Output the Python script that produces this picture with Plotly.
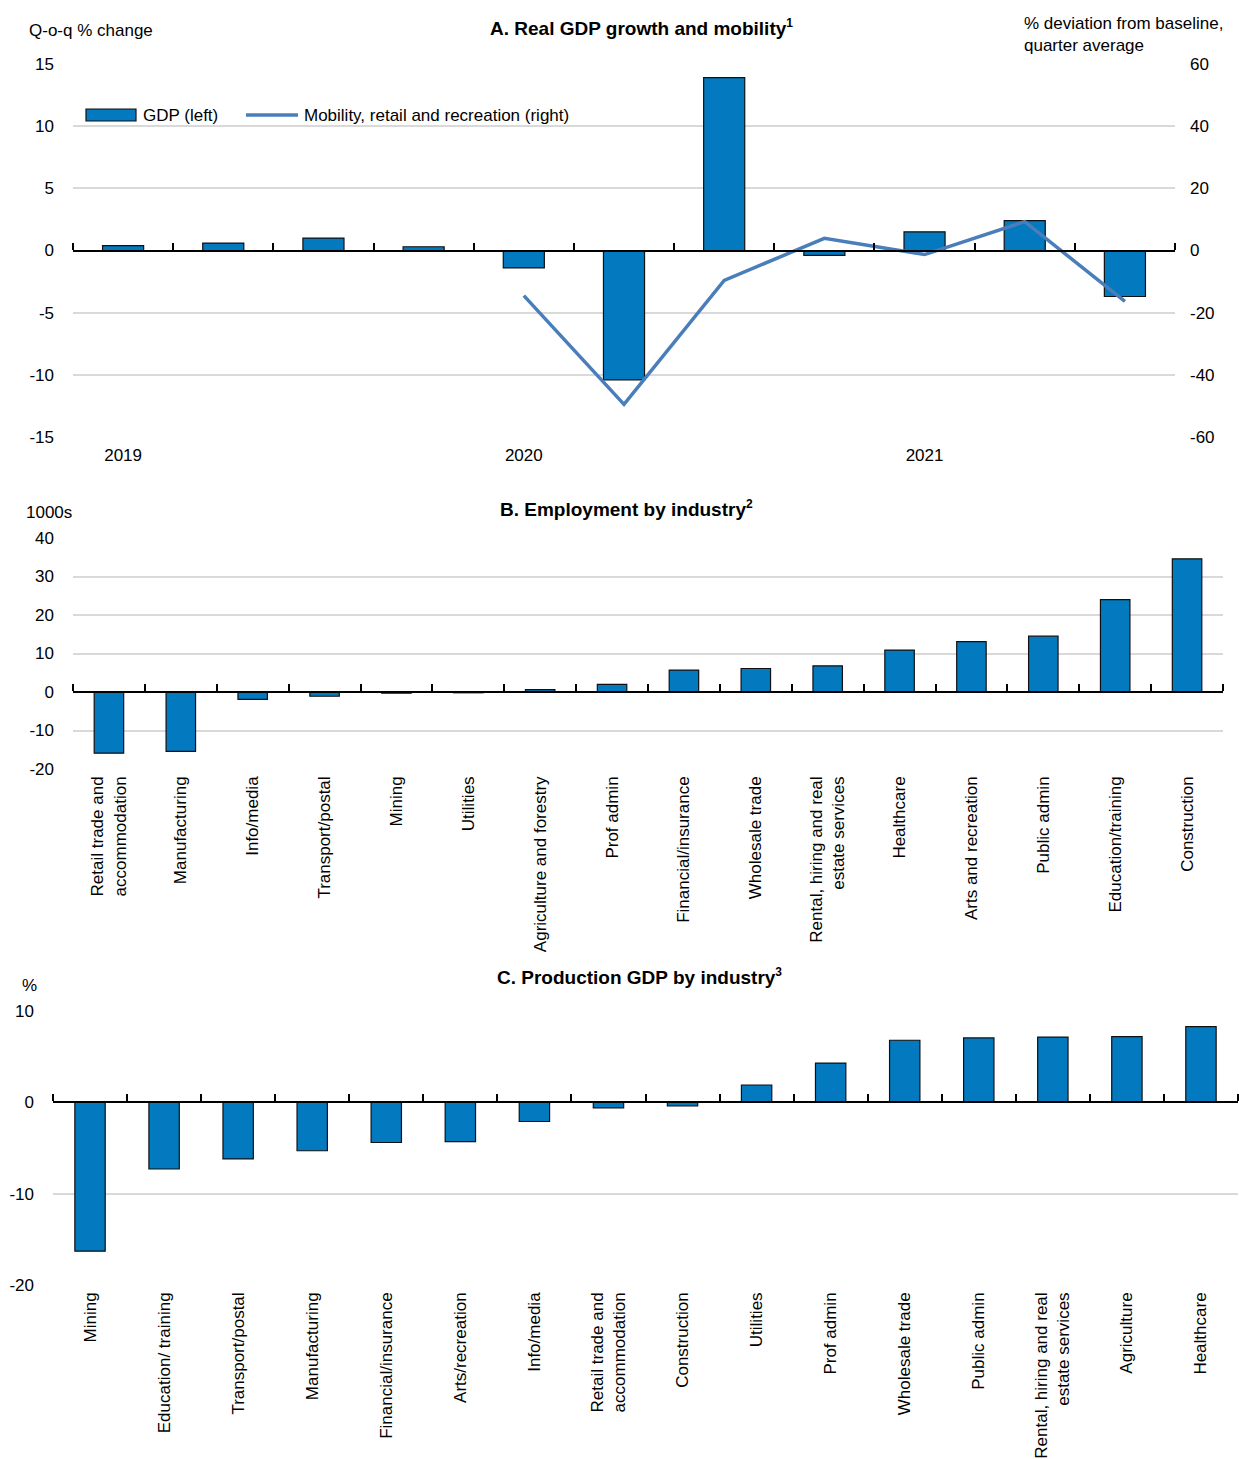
import plotly.graph_objects as go

# ---------------- data ----------------
# Panel A: quarterly real GDP growth (left, %) and mobility (right, % dev. from baseline)
quarters = ["2019 Q1", "2019 Q2", "2019 Q3", "2019 Q4",
            "2020 Q1", "2020 Q2", "2020 Q3", "2020 Q4",
            "2021 Q1", "2021 Q2", "2021 Q3"]
year_ticks = ["2019 Q1", "2020 Q1", "2021 Q1"]
year_labels = ["2019", "2020", "2021"]
gdp_growth = [0.4, 0.6, 1.0, 0.3, -1.4, -10.4, 13.9, -0.4, 1.5, 2.4, -3.7]
mobility = [None, None, None, None, -14.5, -49.5, -9.6, 3.9, -1.3, 9.3, -16.4]
gdp_ticks = [-15, -10, -5, 0, 5, 10, 15]
mobility_ticks = [-60, -40, -20, 0, 20, 40, 60]

# Panel B: employment change by industry, thousands
emp_industries = ["Retail trade and<br>accommodation", "Manufacturing", "Info/media",
                  "Transport/postal", "Mining", "Utilities", "Agriculture and forestry",
                  "Prof admin", "Financial/insurance", "Wholesale trade",
                  "Rental, hiring and real<br>estate services", "Healthcare",
                  "Arts and recreation", "Public admin", "Education/training", "Construction"]
emp_change = [-15.9, -15.4, -1.9, -1.1, -0.3, -0.2, 0.6, 2.0, 5.7, 6.1, 6.8,
              10.9, 13.1, 14.5, 24.0, 34.6]
emp_ticks = [-20, -10, 0, 10, 20, 30, 40]

# Panel C: production GDP by industry, %
prod_industries = ["Mining", "Education/ training", "Transport/postal", "Manufacturing",
                   "Financial/insurance", "Arts/recreation", "Info/media",
                   "Retail trade and<br>accommodation", "Construction", "Utilities",
                   "Prof admin", "Wholesale trade", "Public admin",
                   "Rental, hiring and real<br>estate services", "Agriculture", "Healthcare"]
prod_change = [-16.3, -7.3, -6.2, -5.3, -4.4, -4.3, -2.1, -0.6, -0.4, 1.9, 4.3,
               6.8, 7.05, 7.15, 7.2, 8.3]
prod_ticks = [-20, -10, 0, 10]

# ---------------- styling ----------------
W, H = 1239, 1459
FONT = "Liberation Sans, Arial, sans-serif"
FS = 17
TFS = 19
BAR = "#0379BF"
LINE = "#4A7EBB"
GRID = "#D9D9D9"


def px_x(x):
    return x / W


def px_y(y):
    return 1 - y / H


# plot areas in pixels (left, right, top, bottom)
A = dict(x=(73, 1175), y=(64, 437), r=(-15, 15))
B = dict(x=(73, 1223), y=(538, 769), r=(-20, 40))
C = dict(x=(53, 1238), y=(1011, 1285), r=(-20, 10))


def xdom(p):
    return [px_x(p["x"][0]), px_x(p["x"][1])]


def ydom(p):
    return [px_y(p["y"][1]), px_y(p["y"][0])]


def zero_pos(p):
    d = ydom(p)
    lo, hi = p["r"]
    return d[0] + (0 - lo) / (hi - lo) * (d[1] - d[0])


tickfont = dict(family=FONT, size=FS, color="#000000")

fig = go.Figure()

bar_style = dict(marker=dict(color=BAR, line=dict(color="#111111", width=1.2)),
                 width=0.41, showlegend=False, hoverinfo="x+y")

# Panel A
fig.add_trace(go.Bar(x=quarters, y=gdp_growth, xaxis="x", yaxis="y", name="GDP (left)", **bar_style))
fig.add_trace(go.Scatter(x=quarters, y=mobility, xaxis="x", yaxis="y2", mode="lines",
                         line=dict(color=LINE, width=3.5), connectgaps=False,
                         name="Mobility, retail and recreation (right)", showlegend=False))
# Panel B
fig.add_trace(go.Bar(x=emp_industries, y=emp_change, xaxis="x3", yaxis="y3", **bar_style))
# Panel C
fig.add_trace(go.Bar(x=prod_industries, y=prod_change, xaxis="x5", yaxis="y4", **bar_style))

# invisible helpers so the zero-line tick axes are drawn
for xa, ya, n in (("x2", "y", len(quarters)), ("x4", "y3", len(emp_industries)),
                  ("x6", "y4", len(prod_industries))):
    fig.add_trace(go.Scatter(x=[-0.5, n - 0.5], y=[None, None], xaxis=xa, yaxis=ya,
                             mode="markers", showlegend=False, hoverinfo="skip"))


def y_axis(p, ticks, anchor):
    return dict(domain=ydom(p), range=list(p["r"]), anchor=anchor,
                tickmode="array", tickvals=ticks, ticktext=[str(t) for t in ticks],
                showgrid=True, gridcolor=GRID, gridwidth=2, zeroline=False,
                showline=False, ticks="", tickfont=tickfont, ticklabelstandoff=18,
                fixedrange=True)


def zero_axis(p, n, overlay):
    return dict(domain=xdom(p), range=[-0.5, n - 0.5], overlaying=overlay,
                anchor="free", position=zero_pos(p), side="top",
                tickmode="array", tickvals=[i - 0.5 for i in range(n + 1)],
                ticks="outside", ticklen=7, tickwidth=1.5, tickcolor="#000000",
                showline=True, linecolor="#000000", linewidth=2,
                showticklabels=False, showgrid=False, zeroline=False, fixedrange=True)


def cat_axis(p, anchor, **kw):
    d = dict(domain=xdom(p), anchor=anchor, showgrid=False, zeroline=False,
             showline=False, ticks="", tickfont=tickfont, fixedrange=True)
    d.update(kw)
    return d


fig.update_layout(
    width=W, height=H,
    margin=dict(l=0, r=0, t=0, b=0, autoexpand=False),
    paper_bgcolor="white", plot_bgcolor="rgba(0,0,0,0)",
    font=dict(family=FONT, size=FS, color="#000000"),
    showlegend=False,
    # Panel A
    xaxis=cat_axis(A, "y", tickmode="array", tickvals=year_ticks, ticktext=year_labels,
                   tickangle=0, ticklabelstandoff=6),
    yaxis=y_axis(A, gdp_ticks, "x"),
    yaxis2=dict(domain=ydom(A), range=[-60, 60], overlaying="y", side="right",
                tickmode="array", tickvals=mobility_ticks,
                ticktext=[str(t) for t in mobility_ticks],
                anchor="x", showgrid=False, zeroline=False, showline=False, ticks="",
                tickfont=tickfont, ticklabelstandoff=14, fixedrange=True),
    xaxis2=zero_axis(A, len(quarters), "x"),
    # Panel B
    xaxis3=cat_axis(B, "y3", tickangle=-90, ticklabelstandoff=3),
    yaxis3=y_axis(B, emp_ticks, "x3"),
    xaxis4=zero_axis(B, len(emp_industries), "x3"),
    # Panel C
    xaxis5=cat_axis(C, "y4", tickangle=-90, ticklabelstandoff=3),
    yaxis4=y_axis(C, prod_ticks, "x5"),
    xaxis6=zero_axis(C, len(prod_industries), "x5"),
)

ann = []


def text(x, y, s, xanchor="left", size=FS, align="left"):
    ann.append(dict(x=px_x(x), y=px_y(y), xref="paper", yref="paper", text=s,
                    showarrow=False, xanchor=xanchor, yanchor="middle", align=align,
                    font=dict(family=FONT, size=size, color="#000000")))


def note(n):
    return "<sup><b><span style='font-size:12px'>%d</span></b></sup>" % n


# titles
text(641, 27, "<b>A. Real GDP growth and mobility</b>" + note(1), xanchor="center", size=TFS)
text(626, 508, "<b>B. Employment by industry</b>" + note(2), xanchor="center", size=TFS)
text(639, 976, "<b>C. Production GDP by industry</b>" + note(3), xanchor="center", size=TFS)
# axis units
text(27, 30, "Q-o-q % change")
text(1022, 34, "% deviation from baseline,<br>quarter average")
text(24, 513, "1000s")
text(20, 985, "%")
# legend labels
text(141, 115, "GDP (left)")
text(302, 115, "Mobility, retail and recreation (right)")
fig.update_layout(annotations=ann)

# legend keys
fig.add_shape(type="rect", xref="paper", yref="paper",
              x0=px_x(86), x1=px_x(136), y0=px_y(121), y1=px_y(109),
              fillcolor=BAR, line=dict(color="#111111", width=1.2))
fig.add_shape(type="line", xref="paper", yref="paper",
              x0=px_x(246), x1=px_x(298), y0=px_y(115), y1=px_y(115),
              line=dict(color=LINE, width=3.5))

fig.write_html("out.html")
